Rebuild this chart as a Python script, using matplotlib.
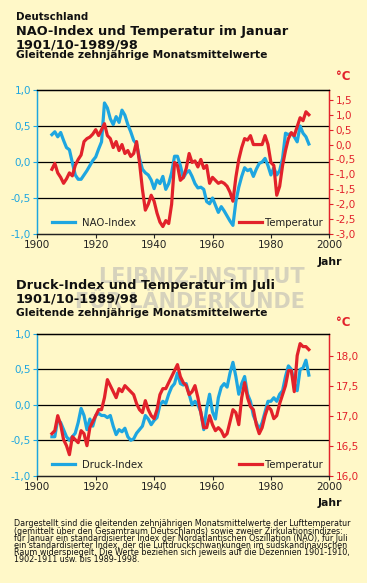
import matplotlib.pyplot as plt
from matplotlib.ticker import FuncFormatter

# Daten (gleitende 10-jährige Mittel, Jahr = Mitte der Dekade)
jahre_jan = list(range(1905, 1994))
nao_index = [0.38, 0.42, 0.35, 0.41, 0.30, 0.20, 0.17, -0.01, -0.18, -0.24,
             -0.24, -0.18, -0.12, -0.05, 0.02, 0.07, 0.18, 0.28, 0.82, 0.75,
             0.60, 0.52, 0.63, 0.55, 0.72, 0.65, 0.52, 0.42, 0.30, 0.25,
             0.05, -0.10, -0.15, -0.18, -0.25, -0.37, -0.25, -0.30, -0.20, -0.38,
             -0.30, -0.15, 0.08, 0.08, -0.05, -0.22, -0.15, -0.12, -0.20, -0.30,
             -0.36, -0.35, -0.38, -0.55, -0.58, -0.50, -0.60, -0.70, -0.62, -0.68,
             -0.75, -0.82, -0.88, -0.55, -0.35, -0.20, -0.08, -0.12, -0.10, -0.20,
             -0.10, -0.02, 0.00, 0.05, -0.05, -0.18, -0.08, -0.18, -0.12, 0.05,
             0.40, 0.38, 0.40, 0.35, 0.28, 0.50, 0.40, 0.35, 0.25]
temp_jan = [-0.83, -0.63, -0.95, -1.10, -1.30, -1.15, -0.95, -1.05, -0.70, -0.50,
            -0.35, 0.10, 0.20, 0.25, 0.35, 0.50, 0.30, 0.50, 0.70, 0.30,
            0.20, -0.10, 0.10, -0.20, 0.00, -0.30, -0.20, -0.40, -0.30, 0.10,
            -0.60, -1.50, -2.20, -2.00, -1.70, -1.90, -2.30, -2.60, -2.75, -2.55,
            -2.65, -2.00, -0.60, -0.70, -1.20, -1.10, -0.80, -0.30, -0.60, -0.55,
            -0.75, -0.50, -0.80, -0.70, -1.30, -1.10, -1.20, -1.30, -1.25, -1.30,
            -1.40, -1.60, -1.90, -1.10, -0.50, -0.10, 0.20, 0.15, 0.30, 0.00,
            0.00, 0.00, 0.00, 0.30, 0.00, -0.60, -0.70, -1.70, -1.40, -0.70,
            -0.20, 0.20, 0.40, 0.30, 0.60, 0.90, 0.80, 1.10, 1.00]

jahre_jul = list(range(1905, 1994))
druck_index = [-0.45, -0.45, -0.20, -0.25, -0.35, -0.45, -0.50, -0.45, -0.40, -0.25,
               -0.05, -0.15, -0.35, -0.20, -0.30, -0.15, -0.12, -0.15, -0.15, -0.18,
               -0.15, -0.30, -0.42, -0.35, -0.38, -0.33, -0.45, -0.50, -0.48, -0.40,
               -0.35, -0.30, -0.15, -0.20, -0.28, -0.22, -0.18, 0.00, 0.05, 0.02,
               0.15, 0.25, 0.30, 0.45, 0.30, 0.28, 0.30, 0.15, 0.00, 0.05,
               0.00, -0.10, -0.35, -0.05, 0.15, -0.10, -0.20, 0.10, 0.25, 0.30,
               0.25, 0.45, 0.60, 0.40, 0.15, 0.30, 0.40, 0.15, 0.05, -0.15,
               -0.25, -0.35, -0.25, -0.10, 0.05, 0.05, 0.10, 0.05, 0.15, 0.20,
               0.40, 0.55, 0.50, 0.30, 0.20, 0.50, 0.52, 0.63, 0.42]
temp_jul = [16.70, 16.75, 17.00, 16.85, 16.60, 16.50, 16.35, 16.65, 16.60, 16.55,
            16.75, 16.70, 16.50, 16.80, 16.90, 17.00, 17.10, 17.10, 17.30, 17.60,
            17.50, 17.40, 17.30, 17.45, 17.40, 17.50, 17.45, 17.40, 17.35, 17.20,
            17.10, 17.05, 17.25, 17.10, 17.00, 16.95, 17.10, 17.35, 17.45, 17.45,
            17.55, 17.65, 17.75, 17.85, 17.65, 17.55, 17.50, 17.35, 17.40, 17.50,
            17.30, 17.05, 16.80, 16.80, 17.00, 16.85, 16.75, 16.80, 16.75, 16.65,
            16.70, 16.90, 17.10, 17.05, 16.85, 17.30, 17.55, 17.30, 17.15, 17.10,
            16.85, 16.70, 16.80, 17.00, 17.15, 17.10, 16.95, 17.00, 17.20, 17.35,
            17.50, 17.75, 17.75, 17.40, 18.00, 18.20, 18.15, 18.15, 18.10]

nao_ticks = [-1.0, -0.5, 0.0, 0.5, 1.0]
temp_jan_ticks = [-3.0, -2.5, -2.0, -1.5, -1.0, -0.5, 0.0, 0.5, 1.0, 1.5]
temp_jul_ticks = [16.0, 16.5, 17.0, 17.5, 18.0]
jahr_ticks = [1900, 1920, 1940, 1960, 1980, 2000]

fussnote = [
    "Dargestellt sind die gleitenden zehnjährigen Monatsmittelwerte der Lufttemperatur",
    "(gemittelt über den Gesamtraum Deutschlands) sowie zweier Zirkulationsindizes:",
    "für Januar ein standardisierter Index der Nordatlantischen Oszillation (NAO), für Juli",
    "ein standardisierter Index, der die Luftdruckschwankungen im südskandinavischen",
    "Raum widerspiegelt. Die Werte beziehen sich jeweils auf die Dezennien 1901-1910,",
    "1902-1911 usw. bis 1989-1998.",
]

BG = '#fff8c8'
BLAU = '#1ea6e0'
ROT = '#e2222b'
W, H = 367, 583

fig = plt.figure(figsize=(W / 100, H / 100), dpi=100, facecolor=BG)


def px(x, y):
    return x / W, 1 - y / H


komma = FuncFormatter(lambda v, p: f"{v:.1f}".replace('.', ','))

# Wasserzeichen
for y, txt in ((283, "LEIBNIZ-INSTITUT"), (308, "FÜR LÄNDERKUNDE")):
    fig.text(*px(305, y), txt, ha='right', va='baseline', fontsize=15,
             color='#d6d2bc', family=['Liberation Sans Narrow', 'DejaVu Sans'],
             weight='bold', zorder=0)


def diagramm(top, bottom, jahre, index, temp, ylim2, ticks2, label1):
    l, b = px(37.3, bottom)
    ax = fig.add_axes([l, b, 292 / W, (bottom - top) / H])
    ax.set_facecolor('none')
    ax2 = ax.twinx()

    for y in [-0.5, 0.0, 0.5]:
        ax.axhline(y, color='black', lw=0.9, zorder=1)
    l1, = ax.plot(jahre, index, color=BLAU, lw=2.3, zorder=3, label=label1)
    l2, = ax2.plot(jahre, temp, color=ROT, lw=2.3, zorder=3, label='Temperatur')

    ax.set_xlim(1900, 2000)
    ax.set_ylim(-1.0, 1.0)
    ax2.set_ylim(*ylim2)
    ax.set_xticks(jahr_ticks)
    ax.set_yticks(nao_ticks)
    ax2.set_yticks(ticks2)
    ax.yaxis.set_major_formatter(komma)
    ax2.yaxis.set_major_formatter(komma)

    ax.tick_params(axis='x', length=3, width=0.8, labelsize=7.5, pad=1.5, colors='#222222')
    ax.tick_params(axis='y', length=3, width=0.8, labelsize=7.5, pad=1.5, colors=BLAU)
    ax2.tick_params(axis='y', length=3, width=0.8, labelsize=7.5, pad=1.5, colors=ROT)
    for a in (ax, ax2):
        a.spines['left'].set_color(BLAU)
        a.spines['right'].set_color(ROT)
        a.spines['top'].set_color('black')
        a.spines['bottom'].set_color('#222222')
        for s in a.spines.values():
            s.set_linewidth(0.9)

    leg1 = ax2.legend(handles=[l1], loc='lower left', frameon=False, fontsize=7.3,
                      handlelength=2.3, handletextpad=0.6, borderaxespad=0.2,
                      bbox_to_anchor=(0.03, 0.0))
    ax2.add_artist(leg1)
    leg2 = ax2.legend(handles=[l2], loc='lower right', frameon=False, fontsize=7.3,
                      handlelength=2.3, handletextpad=0.3, borderaxespad=0.2,
                      bbox_to_anchor=(1.0, 0.0))
    for leg in (leg1, leg2):
        for t in leg.get_texts():
            t.set_color('#222222')
    return ax


def titel(zeilen):
    groessen = [9.3, 9.3, 7.7]
    for (y, txt), fs in zip(zeilen, groessen):
        fig.text(*px(15.7, y), txt, ha='left', va='baseline', fontsize=fs,
                 weight='bold', color='#111111')


fig.text(*px(15.7, 20), "Deutschland", ha='left', va='baseline', fontsize=7.4,
         weight='bold', color='#111111')
titel([(35, "NAO-Index und Temperatur im Januar"),
       (48, "1901/10-1989/98"),
       (57.5, "Gleitende zehnjährige Monatsmittelwerte")])
titel([(289, "Druck-Index und Temperatur im Juli"),
       (302.5, "1901/10-1989/98"),
       (316, "Gleitende zehnjährige Monatsmittelwerte")])

diagramm(90, 234, jahre_jan, nao_index, temp_jan, (-3.0, 1.83), temp_jan_ticks, 'NAO-Index')
diagramm(334, 475.7, jahre_jul, druck_index, temp_jul, (16.0, 18.36), temp_jul_ticks, 'Druck-Index')

for y in (77, 323):
    fig.text(*px(343, y), "°C", ha='center', va='center', fontsize=8.5, weight='bold', color=ROT)
for y in (262, 503):
    fig.text(*px(330, y), "Jahr", ha='center', va='center', fontsize=7.8, weight='bold',
             color='#111111')

fig.text(*px(13.5, 519.5), "\n".join(fussnote), ha='left', va='top', fontsize=5.8,
         linespacing=0.72, color='#111111')

fig.savefig('out.png', dpi=100, facecolor=BG)
